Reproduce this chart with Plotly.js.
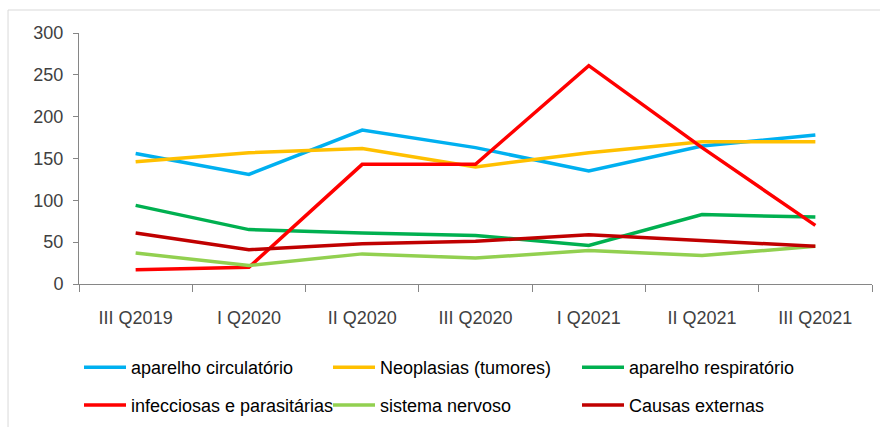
<!DOCTYPE html>
<html><head><meta charset="utf-8">
<script src="https://cdn.plot.ly/plotly-3.0.1.min.js"></script>
<style>html,body{margin:0;padding:0;background:#fff}#c{width:880px;height:427px}</style>
</head><body><div id="c"></div>
<script>
const categories = ["III Q2019","I Q2020","II Q2020","III Q2020","I Q2021","II Q2021","III Q2021"];
const circulatorio = [156,131,184,163,135,165,178];
const neoplasias = [146,157,162,140,157,170,170];
const respiratorio = [94,65,61,58,46,83,80];
const infecciosas = [17,20,143,143,261,163,70];
const nervoso = [37,22,36,31,40,34,45];
const externas = [61,41,48,51,59,52,45];
const seriesNames = ["aparelho circulatório","Neoplasias (tumores)","aparelho respiratório","infecciosas e parasitárias","sistema nervoso","Causas externas"];
const seriesColors = ["#00B0F0","#FFC000","#00B050","#FF0000","#92D050","#C00000"];
const yTicks = [0,50,100,150,200,250,300];

const values = [circulatorio,neoplasias,respiratorio,infecciosas,nervoso,externas];
const FONT = "Liberation Sans, Arial, sans-serif";
const traces = values.map((v,i)=>({
  x: categories, y: v, name: seriesNames[i], type: "scatter", mode: "lines",
  line: {color: seriesColors[i], width: 3.5},
  legend: i < 3 ? "legend" : "legend2"
}));

const legendBase = {
  orientation: "h", x: 0.0, xanchor: "left", yanchor: "top",
  entrywidth: 192, entrywidthmode: "pixels", itemwidth: 42,
  font: {family: FONT, size: 18, color: "#000"}, traceorder: "normal"
};

const layout = {
  width: 880, height: 427,
  margin: {l:79, r:8, t:33, b:143, autoexpand: false},
  paper_bgcolor: "#fff", plot_bgcolor: "#fff",
  font: {family: FONT, size: 18, color: "#404040"},
  showlegend: true,
  xaxis: {
    type: "category", range: [-0.5, 6.5], showgrid: false, zeroline: false,
    showline: true, linecolor: "#868686", linewidth: 1,
    ticks: "outside", tickson: "boundaries", ticklen: 7, tickcolor: "#868686",
    ticklabelstandoff: 17, tickfont: {family: FONT, size: 18, color: "#404040"}
  },
  yaxis: {
    range: [0,300], tickvals: yTicks, showgrid: false, zeroline: false,
    showline: true, linecolor: "#868686", linewidth: 1,
    ticks: "outside", ticklen: 5, tickcolor: "#868686",
    ticklabelstandoff: 6,
    tickfont: {family: FONT, size: 18, color: "#404040"}
  },
  legend: Object.assign({}, legendBase, {y: -0.259}),
  legend2: Object.assign({}, legendBase, {y: -0.41}),
  shapes: [{
    type: "rect", xref: "paper", yref: "paper",
    x0: -0.0895, x1: 1.05, y0: -0.7, y1: 1.0916,
    line: {color: "#D9D9D9", width: 1}, fillcolor: "rgba(0,0,0,0)", layer: "below"
  }]
};
Plotly.newPlot("c", traces, layout, {displayModeBar: false, staticPlot: true});
</script></body></html>
